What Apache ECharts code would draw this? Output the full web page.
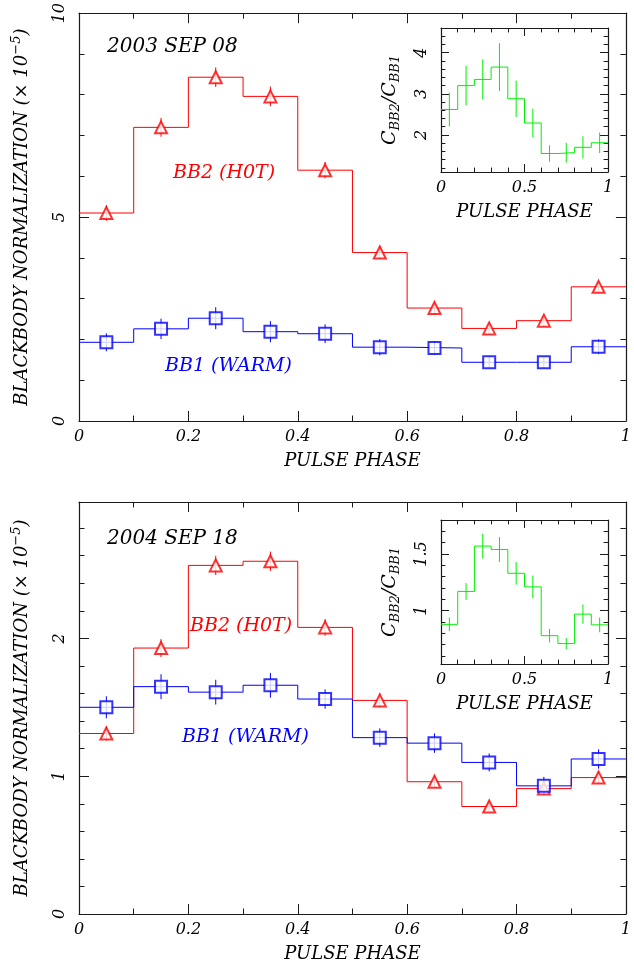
<!DOCTYPE html>
<html>
<head>
<meta charset="utf-8">
<script src="https://cdn.jsdelivr.net/npm/echarts@6/dist/echarts.min.js"></script>
<style>
  html, body { margin: 0; padding: 0; background: #fff; }
  #chart { width: 634px; height: 965px; }
</style>
</head>
<body>
<div id="chart"></div>
<script>
// phase bins (centres), each 0.1 wide
var phase = [0.05, 0.15, 0.25, 0.35, 0.45, 0.55, 0.65, 0.75, 0.85, 0.95];
var halfBin = 0.05;

// 2003 SEP 08
var bb2_2003 = [5.10, 7.20, 8.43, 7.96, 6.15, 4.13, 2.77, 2.27, 2.46, 3.29];
var bb2Err_2003 = [0.19, 0.23, 0.24, 0.24, 0.20, 0.16, 0.16, 0.14, 0.14, 0.14];
var bb1_2003 = [1.93, 2.26, 2.52, 2.19, 2.14, 1.81, 1.79, 1.44, 1.44, 1.82];
var bb1Err_2003 = [0.22, 0.25, 0.27, 0.26, 0.23, 0.20, 0.16, 0.14, 0.14, 0.18];
var ratio_2003 = [2.62, 3.20, 3.35, 3.65, 2.88, 2.29, 1.55, 1.57, 1.70, 1.81];
var ratioErr_2003 = [0.41, 0.48, 0.49, 0.58, 0.44, 0.35, 0.20, 0.24, 0.27, 0.25];

// 2004 SEP 18
var bb2_2004 = [1.31, 1.93, 2.53, 2.56, 2.08, 1.55, 0.96, 0.78, 0.91, 0.99];
var bb2Err_2004 = [0.05, 0.065, 0.07, 0.07, 0.06, 0.05, 0.045, 0.04, 0.04, 0.045];
var bb1_2004 = [1.50, 1.65, 1.61, 1.66, 1.56, 1.28, 1.24, 1.10, 0.93, 1.125];
var bb1Err_2004 = [0.08, 0.09, 0.09, 0.09, 0.07, 0.067, 0.07, 0.065, 0.065, 0.07];
var ratio_2004 = [0.88, 1.17, 1.57, 1.54, 1.33, 1.21, 0.78, 0.71, 0.97, 0.875];
var ratioErr_2004 = [0.06, 0.074, 0.11, 0.11, 0.10, 0.10, 0.06, 0.05, 0.085, 0.065];

// ticks and labels
var phaseMajor = [0, 0.2, 0.4, 0.6, 0.8, 1];
var phaseMinor = [0.1, 0.3, 0.5, 0.7, 0.9];
var insetPhaseMajor = [0, 0.5, 1];
var insetPhaseMinor = [0.1, 0.2, 0.3, 0.4, 0.6, 0.7, 0.8, 0.9];
var norm2003Major = [0, 5, 10];
var norm2003Minor = [1, 2, 3, 4, 6, 7, 8, 9];
var norm2004Major = [0, 1, 2];
var norm2004Minor = [0.2, 0.4, 0.6, 0.8, 1.2, 1.4, 1.6, 1.8, 2.2, 2.4, 2.6, 2.8];
var ratio2003Major = [2, 3, 4];
var ratio2003Minor = [1.2, 1.4, 1.6, 1.8, 2.2, 2.4, 2.6, 2.8, 3.2, 3.4, 3.6, 3.8, 4.2, 4.4];
var ratio2004Major = [1, 1.5];
var ratio2004Minor = [0.6, 0.7, 0.8, 0.9, 1.1, 1.2, 1.3, 1.4, 1.6, 1.7];

var FONT = 'DejaVu Serif';
var RED = '#ff0000', BLUE = '#0000ff', GREEN = '#00f000';
var INK = '#1a1a1a';

var chart = echarts.init(document.getElementById('chart'));

// four axes per side pair: labelled major, minor, mirrored major, mirrored minor
function frame(dim, gi, c) {
  var sides = dim === 'x' ? ['bottom', 'top'] : ['left', 'right'];
  var out = [];
  sides.forEach(function (pos, s) {
    [c.major, c.minor].forEach(function (ticks, k) {
      var ax = {
        type: 'value', gridIndex: gi, position: pos, min: c.min, max: c.max,
        axisLine: { show: k === 0, onZero: false, lineStyle: { color: INK, width: 1.2 } },
        axisTick: { show: true, inside: true, customValues: ticks,
          length: k === 0 ? c.len : c.len * 0.55, lineStyle: { color: INK, width: 1 } },
        axisLabel: { show: false },
        splitLine: { show: false }
      };
      if (s === 0 && k === 0) {
        ax.axisLabel = {
          show: true, customValues: c.labels,
          formatter: function (v) { return String(v); },
          rotate: dim === 'y' ? 90 : 0, margin: c.margin,
          fontFamily: FONT, fontStyle: 'italic', fontSize: 16, color: '#000'
        };
        ax.name = c.name;
        ax.nameLocation = 'middle';
        ax.nameGap = c.nameGap;
        ax.nameTextStyle = c.nameStyle || { fontFamily: FONT, fontStyle: 'italic', fontSize: 18, color: '#000' };
      }
      out.push(ax);
    });
  });
  return out;
}

// C_BB2 / C_BB1 with subscripts
var ratioName = {
  fontFamily: FONT, fontStyle: 'italic', color: '#000',
  rich: {
    n: { fontFamily: FONT, fontStyle: 'italic', fontSize: 19, lineHeight: 20, verticalAlign: 'middle', color: '#000' },
    s: { fontFamily: FONT, fontStyle: 'italic', fontSize: 13, lineHeight: 14, padding: [12, 0, 0, 0], verticalAlign: 'middle', color: '#000' }
  }
};
var ratioLabel = '{n|C}{s|BB2}{n|/C}{s|BB1}';
var normName = {
  fontFamily: FONT, fontStyle: 'italic', color: '#000',
  rich: {
    n: { fontFamily: FONT, fontStyle: 'italic', fontSize: 18, lineHeight: 20, verticalAlign: 'middle', color: '#000' },
    p: { fontFamily: FONT, fontStyle: 'italic', fontSize: 13, lineHeight: 14, padding: [0, 0, 10, 0], verticalAlign: 'middle', color: '#000' }
  }
};
var normLabel = '{n|BLACKBODY NORMALIZATION (× 10}{p|−5}{n|)}';

var xAxes = [].concat(
  frame('x', 0, { min: 0, max: 1, major: phaseMajor, minor: phaseMinor, labels: phaseMajor, len: 10, margin: 8, name: 'PULSE PHASE', nameGap: 31 }),
  frame('x', 1, { min: 0, max: 1, major: insetPhaseMajor, minor: insetPhaseMinor, labels: insetPhaseMajor, len: 8, margin: 8, name: 'PULSE PHASE', nameGap: 31 }),
  frame('x', 2, { min: 0, max: 1, major: phaseMajor, minor: phaseMinor, labels: phaseMajor, len: 10, margin: 8, name: 'PULSE PHASE', nameGap: 31 }),
  frame('x', 3, { min: 0, max: 1, major: insetPhaseMajor, minor: insetPhaseMinor, labels: insetPhaseMajor, len: 8, margin: 8, name: 'PULSE PHASE', nameGap: 31 })
);
var yAxes = [].concat(
  frame('y', 0, { min: 0, max: 10, major: norm2003Major, minor: norm2003Minor, labels: norm2003Major, len: 10, margin: 11, name: normLabel, nameGap: 47, nameStyle: normName }),
  frame('y', 1, { min: 1.1, max: 4.6, major: ratio2003Major, minor: ratio2003Minor, labels: ratio2003Major, len: 8, margin: 11, name: ratioLabel, nameGap: 41, nameStyle: ratioName }),
  frame('y', 2, { min: 0, max: 2.99, major: norm2004Major, minor: norm2004Minor, labels: norm2004Major, len: 10, margin: 11, name: normLabel, nameGap: 47, nameStyle: normName }),
  frame('y', 3, { min: 0.53, max: 1.8, major: ratio2004Major, minor: ratio2004Minor, labels: ratio2004Major, len: 8, margin: 11, name: ratioLabel, nameGap: 41, nameStyle: ratioName })
);

function stepData(vals) {
  var d = phase.map(function (p, i) { return [p - halfBin, vals[i]]; });
  d.push([phase[phase.length - 1] + halfBin, vals[vals.length - 1]]);
  return d;
}

function stepSeries(g, vals, color) {
  return {
    type: 'line', step: 'end', xAxisIndex: g * 4, yAxisIndex: g * 4,
    data: stepData(vals), showSymbol: false, silent: true,
    lineStyle: { color: color, width: 1 }, z: 2
  };
}

function markSeries(g, vals, symbol, color) {
  return {
    type: 'scatter', xAxisIndex: g * 4, yAxisIndex: g * 4, silent: true,
    data: phase.map(function (p, i) { return [p, vals[i]]; }),
    symbol: symbol, symbolSize: 12,
    itemStyle: { color: color, borderColor: color, borderWidth: 1 }, z: 4
  };
}

function errSeries(g, vals, errs, color) {
  return {
    type: 'custom', xAxisIndex: g * 4, yAxisIndex: g * 4, silent: true, z: 3,
    data: phase.map(function (p, i) { return [p, vals[i] - errs[i], vals[i] + errs[i]]; }),
    encode: { x: 0, y: [1, 2] },
    renderItem: function (params, api) {
      var lo = api.coord([api.value(0), api.value(1)]);
      var hi = api.coord([api.value(0), api.value(2)]);
      return { type: 'line', shape: { x1: lo[0], y1: lo[1], x2: hi[0], y2: hi[1] },
        style: { stroke: color, lineWidth: 1 } };
    }
  };
}

function label(text, x, y, color, size) {
  return { type: 'text', x: x, y: y, silent: true,
    style: { text: text, fill: color, font: 'italic ' + size + 'px "' + FONT + '"', textVerticalAlign: 'middle' } };
}

chart.setOption({
  animation: false,
  backgroundColor: '#fff',
  grid: [
    { left: 79, top: 10, width: 551, height: 411 },
    { left: 441, top: 28, width: 167, height: 144 },
    { left: 79, top: 502, width: 551, height: 412 },
    { left: 441, top: 520, width: 167, height: 144 }
  ],
  xAxis: xAxes,
  yAxis: yAxes,
  graphic: [
    label('2003 SEP 08', 107, 47, '#000', 20),
    label('BB2 (H0T)', 173, 173, RED, 19),
    label('BB1 (WARM)', 165, 366, BLUE, 19),
    label('2004 SEP 18', 107, 539, '#000', 20),
    label('BB2 (H0T)', 190, 626, RED, 19),
    label('BB1 (WARM)', 182, 737, BLUE, 19)
  ],
  series: [
    stepSeries(0, bb2_2003, RED), errSeries(0, bb2_2003, bb2Err_2003, RED), markSeries(0, bb2_2003, 'emptyTriangle', RED),
    stepSeries(0, bb1_2003, BLUE), errSeries(0, bb1_2003, bb1Err_2003, BLUE), markSeries(0, bb1_2003, 'emptyRect', BLUE),
    stepSeries(1, ratio_2003, GREEN), errSeries(1, ratio_2003, ratioErr_2003, GREEN),
    stepSeries(2, bb2_2004, RED), errSeries(2, bb2_2004, bb2Err_2004, RED), markSeries(2, bb2_2004, 'emptyTriangle', RED),
    stepSeries(2, bb1_2004, BLUE), errSeries(2, bb1_2004, bb1Err_2004, BLUE), markSeries(2, bb1_2004, 'emptyRect', BLUE),
    stepSeries(3, ratio_2004, GREEN), errSeries(3, ratio_2004, ratioErr_2004, GREEN)
  ]
});
</script>
</body>
</html>
